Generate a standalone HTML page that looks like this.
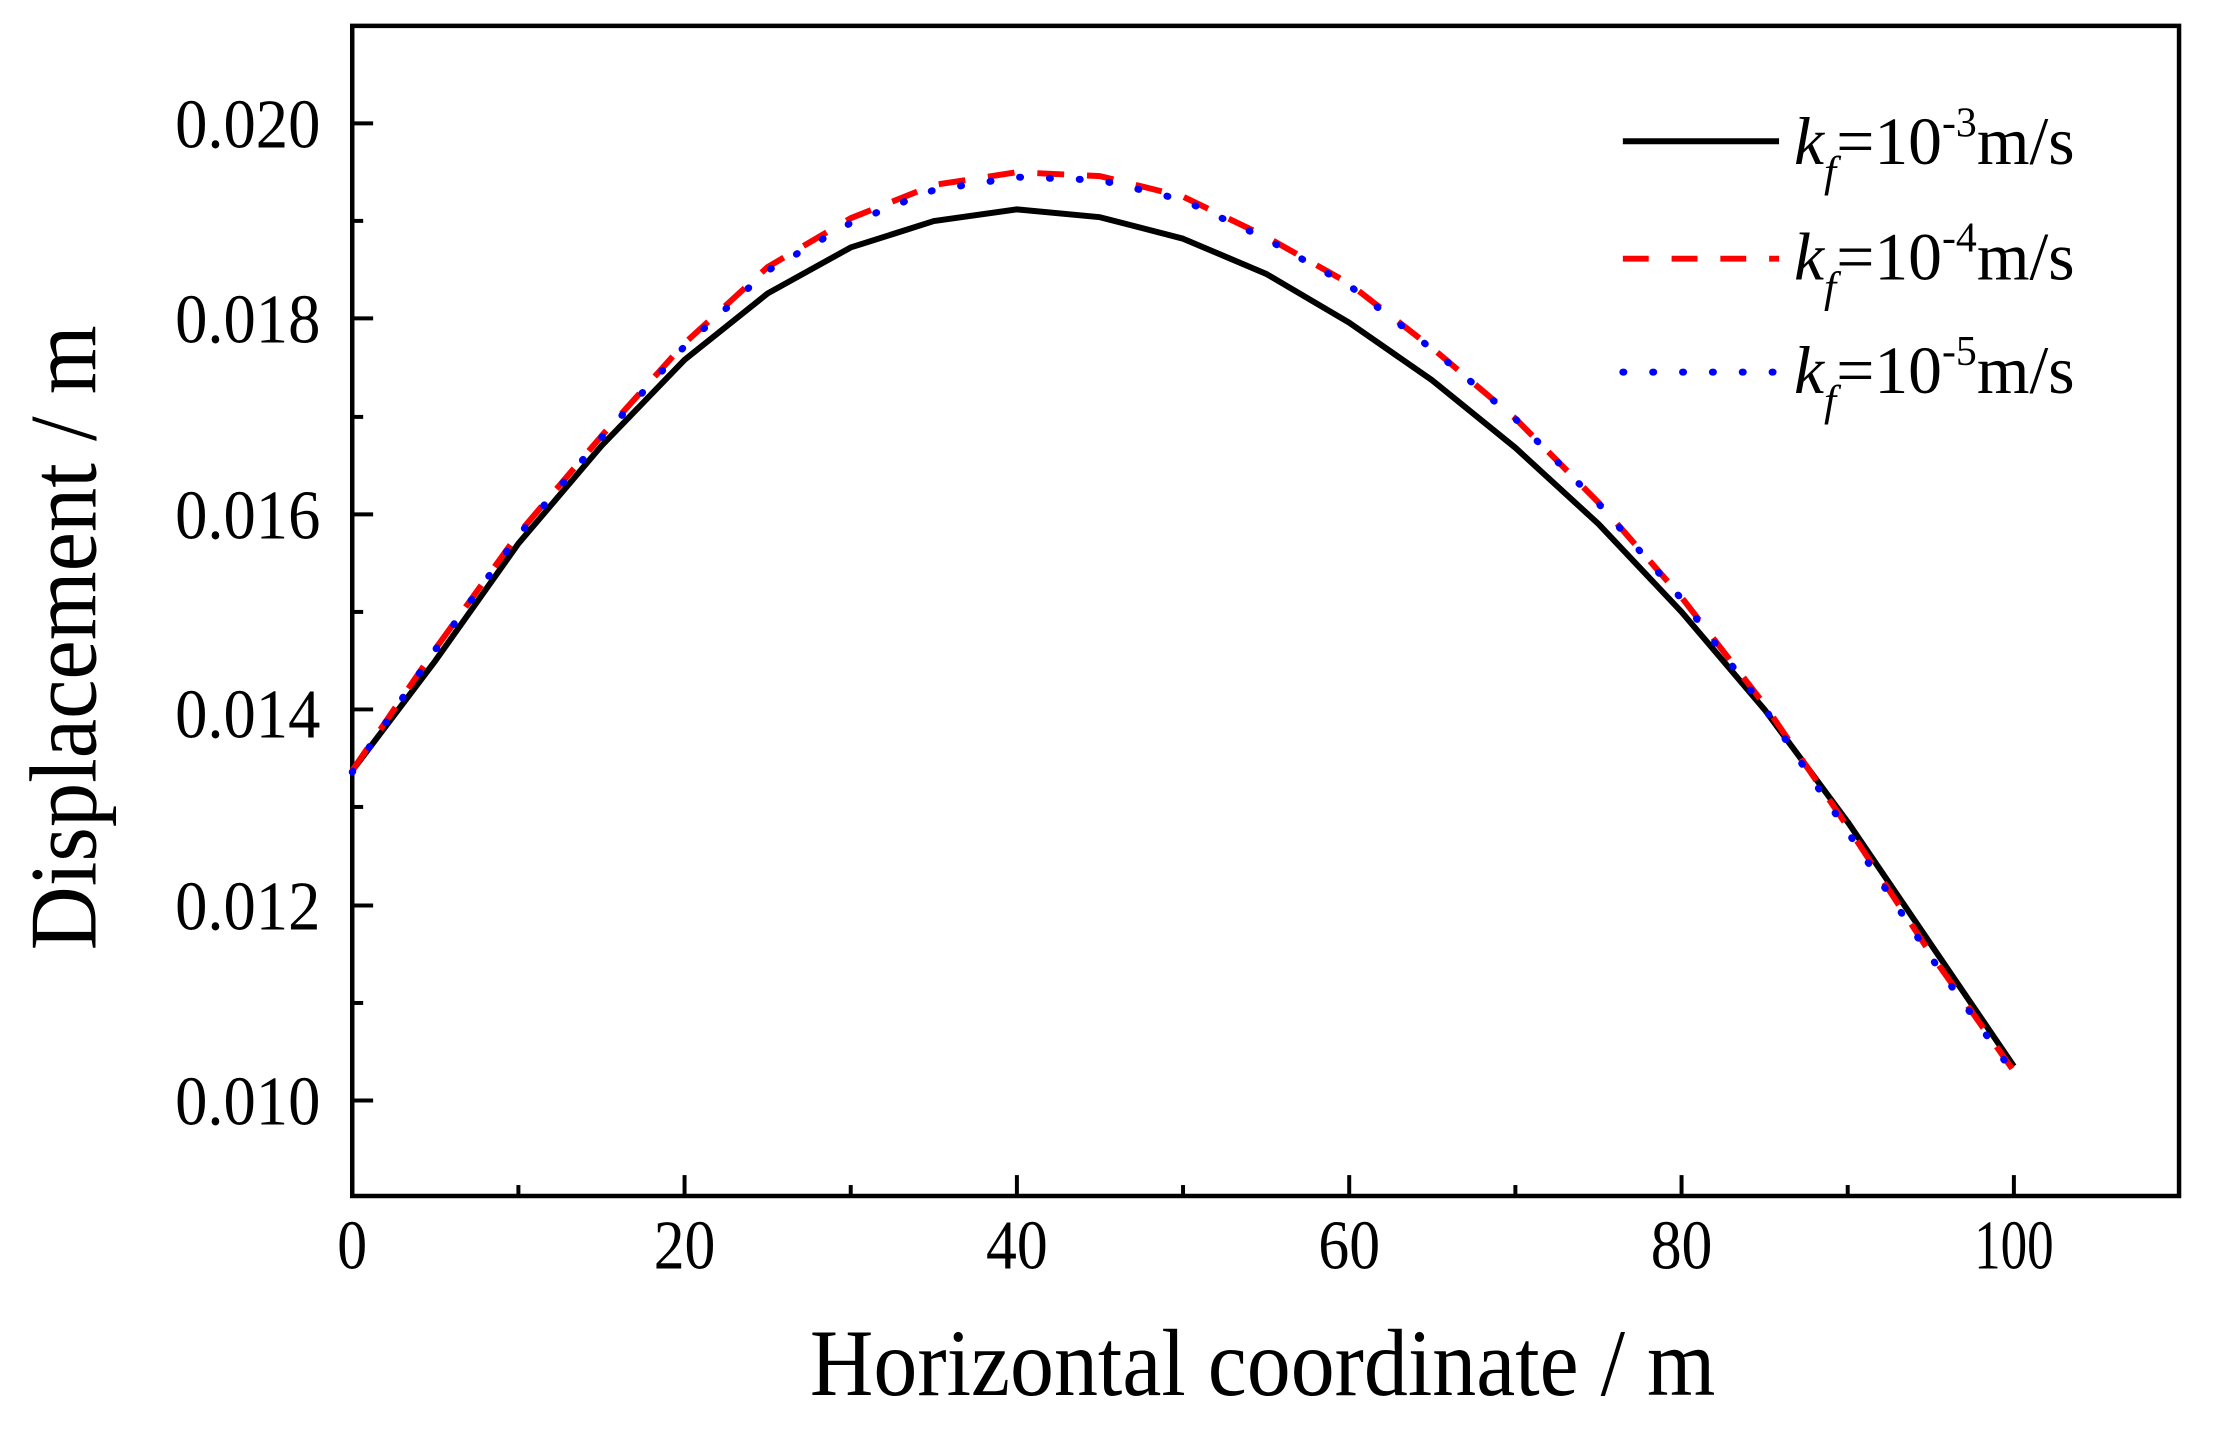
<!DOCTYPE html>
<html><head><meta charset="utf-8"><style>html,body{margin:0;padding:0;background:#fff}svg{display:block}</style></head>
<body>
<svg width="2217" height="1433" viewBox="0 0 2217 1433" xmlns="http://www.w3.org/2000/svg" font-family="'Liberation Serif', serif">
<rect width="2217" height="1433" fill="#fff"/>
<g transform="scale(0.995)">
<g stroke="#000" stroke-width="4">
<line x1="354" y1="1202" x2="354" y2="1181"/>
<line x1="521" y1="1202" x2="521" y2="1191"/>
<line x1="688" y1="1202" x2="688" y2="1181"/>
<line x1="855" y1="1202" x2="855" y2="1191"/>
<line x1="1022" y1="1202" x2="1022" y2="1181"/>
<line x1="1189" y1="1202" x2="1189" y2="1191"/>
<line x1="1356" y1="1202" x2="1356" y2="1181"/>
<line x1="1523" y1="1202" x2="1523" y2="1191"/>
<line x1="1690" y1="1202" x2="1690" y2="1181"/>
<line x1="1857" y1="1202" x2="1857" y2="1191"/>
<line x1="2024" y1="1202" x2="2024" y2="1181"/>
<line x1="354" y1="1106" x2="375" y2="1106"/>
<line x1="354" y1="1008" x2="365" y2="1008"/>
<line x1="354" y1="910" x2="375" y2="910"/>
<line x1="354" y1="811" x2="365" y2="811"/>
<line x1="354" y1="713" x2="375" y2="713"/>
<line x1="354" y1="615" x2="365" y2="615"/>
<line x1="354" y1="517" x2="375" y2="517"/>
<line x1="354" y1="419" x2="365" y2="419"/>
<line x1="354" y1="320" x2="375" y2="320"/>
<line x1="354" y1="222" x2="365" y2="222"/>
<line x1="354" y1="124" x2="375" y2="124"/>
</g>
<rect x="354" y="26" width="1836" height="1176" fill="none" stroke="#000" stroke-width="4.5"/>
<g font-size="70" fill="#000" text-anchor="middle">
<text x="354" y="1275" textLength="30" lengthAdjust="spacingAndGlyphs">0</text>
<text x="688" y="1275" textLength="62" lengthAdjust="spacingAndGlyphs">20</text>
<text x="1022" y="1275" textLength="62" lengthAdjust="spacingAndGlyphs">40</text>
<text x="1356" y="1275" textLength="62" lengthAdjust="spacingAndGlyphs">60</text>
<text x="1690" y="1275" textLength="62" lengthAdjust="spacingAndGlyphs">80</text>
<text x="2024" y="1275" textLength="80" lengthAdjust="spacingAndGlyphs">100</text>
</g>
<g font-size="70" fill="#000" text-anchor="end">
<text x="322" y="1130" textLength="146" lengthAdjust="spacingAndGlyphs">0.010</text>
<text x="322" y="934" textLength="146" lengthAdjust="spacingAndGlyphs">0.012</text>
<text x="322" y="741" textLength="146" lengthAdjust="spacingAndGlyphs">0.014</text>
<text x="322" y="541" textLength="146" lengthAdjust="spacingAndGlyphs">0.016</text>
<text x="322" y="344" textLength="146" lengthAdjust="spacingAndGlyphs">0.018</text>
<text x="322" y="148" textLength="146" lengthAdjust="spacingAndGlyphs">0.020</text>
</g>
<text x="1269" y="1402" font-size="96" text-anchor="middle" textLength="910" lengthAdjust="spacingAndGlyphs">Horizontal coordinate / m</text>
<text transform="translate(96,641) rotate(-90)" font-size="96" text-anchor="middle" textLength="628" lengthAdjust="spacingAndGlyphs">Displacement / m</text>
<polyline fill="none" stroke="#000" stroke-width="6" stroke-linejoin="round" points="354,774.5 437.5,664.1 521,546.3 604.5,448.1 688,361.6 771.5,294.9 855,248.7 938.5,222.2 1022,210.4 1105.5,218.3 1189,239.9 1272.5,275.2 1356,324.3 1439.5,382.3 1523,450 1606.5,526.6 1690,615 1773.5,713.2 1857,826.1 1940.5,948.9 2024,1071.6"/>
<polyline fill="none" stroke="#f00" stroke-width="6" stroke-dasharray="27 23" stroke-linejoin="round" points="354,774.5 437.5,652.3 521,536.4 604.5,438.2 688,345 771.5,268.4 855,219.3 938.5,185.9 1022,173.1 1105.5,177 1189,197.6 1272.5,237.9 1356,285 1439.5,349.9 1523,420.6 1606.5,505 1690,600.3 1773.5,708.3 1857,831 1940.5,958.7 2024,1076.5"/>
<polyline fill="none" stroke="#00f" stroke-width="7" stroke-dasharray="1 29" stroke-linecap="round" stroke-linejoin="round" points="354,776 437.5,653 521,538 604.5,440 688,348 771.5,272 855,224 938.5,191 1022,178 1105.5,181 1189,201 1272.5,240 1356,287 1439.5,351 1523,421 1606.5,506 1690,602 1773.5,712 1857,836 1940.5,962 2024,1079"/>
<line x1="1631" y1="142" x2="1788" y2="142" stroke="#000" stroke-width="6"/>
<line x1="1631" y1="260" x2="1788" y2="260" stroke="#f00" stroke-width="6" stroke-dasharray="26 23"/>
<line x1="1631" y1="374" x2="1788" y2="374" stroke="#00f" stroke-width="7" stroke-dasharray="1 29" stroke-linecap="round"/>
<g font-size="68" fill="#000">
<text x="1803" y="165"><tspan font-style="italic">k</tspan><tspan font-style="italic" font-size="44" dy="22">f</tspan><tspan dy="-22">=10</tspan><tspan font-size="42" dy="-28">-3</tspan><tspan dy="28">m/s</tspan></text>
<text x="1803" y="281"><tspan font-style="italic">k</tspan><tspan font-style="italic" font-size="44" dy="22">f</tspan><tspan dy="-22">=10</tspan><tspan font-size="42" dy="-28">-4</tspan><tspan dy="28">m/s</tspan></text>
<text x="1803" y="395"><tspan font-style="italic">k</tspan><tspan font-style="italic" font-size="44" dy="22">f</tspan><tspan dy="-22">=10</tspan><tspan font-size="42" dy="-28">-5</tspan><tspan dy="28">m/s</tspan></text>
</g>
</g>
</svg>
</body></html>
